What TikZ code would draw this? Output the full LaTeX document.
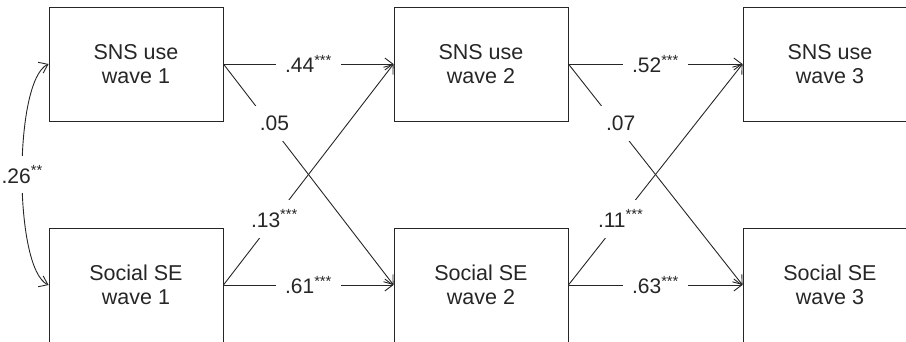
\documentclass[tikz,border=0pt]{standalone}
\usepackage{fontspec}
\setmainfont{Liberation Sans}
\usetikzlibrary{arrows.meta}

\tikzset{
	var/.style={draw=black!85, line width=0.9pt, minimum width=174pt, minimum height=114pt,
		align=center, text=black!85, font=\fontsize{21.5}{24.5}\selectfont},
	effect/.style={draw=black!85, line width=0.9pt, -{Straight Barb[length=8pt,width=12pt]}},
	coef/.style={fill=white, inner xsep=9pt, inner ysep=10pt, text=black!85,
		font=\fontsize{21}{24}\selectfont},
}

\begin{document}
\begin{tikzpicture}[x=1pt,y=1pt]
	\useasboundingbox (0,0) rectangle (906,-341);
	\clip (0,0) rectangle (906,-341);
	% Variables
	\node[var] (sns1) at (136,-64)  {SNS use\\wave 1};
	\node[var] (se1)  at (136,-285) {Social SE\\wave 1};
	\node[var] (sns2) at (481,-64)  {SNS use\\wave 2};
	\node[var] (se2)  at (481,-285) {Social SE\\wave 2};
	\node[var] (sns3) at (830,-64)  {SNS use\\wave 3};
	\node[var] (se3)  at (830,-285) {Social SE\\wave 3};
	% Stability paths
	\draw[effect] (sns1.east) -- node[coef] {.44\textsuperscript{***}} (sns2.west);
	\draw[effect] (se1.east)  -- node[coef] {.61\textsuperscript{***}} (se2.west);
	\draw[effect] (sns2.east) -- node[coef] {.52\textsuperscript{***}} (sns3.west);
	\draw[effect] (se2.east)  -- node[coef] {.63\textsuperscript{***}} (se3.west);
	% Cross-lagged paths
	\draw[effect] (sns1.east) -- node[coef,pos=0.3,yshift=7pt] {.05} (se2.west);
	\draw[effect] (se1.east)  -- node[coef,pos=0.3] {.13\textsuperscript{***}} (sns2.west);
	\draw[effect] (sns2.east) -- node[coef,pos=0.3,yshift=7pt] {.07} (se3.west);
	\draw[effect] (se2.east)  -- node[coef,pos=0.3] {.11\textsuperscript{***}} (sns3.west);
	% Correlation wave 1
	\draw[effect, {Straight Barb[length=8pt,width=12pt]}-{Straight Barb[length=8pt,width=12pt]}]
		(sns1.west) to[out=205, in=155, looseness=0.45] node[coef] {.26\textsuperscript{**}} (se1.west);
\end{tikzpicture}
\end{document}
